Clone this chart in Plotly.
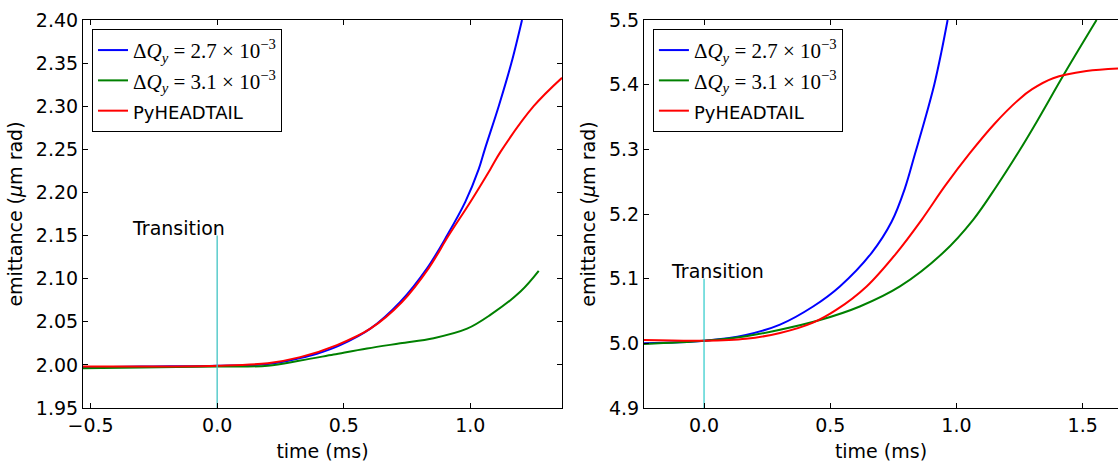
import plotly.graph_objects as go

# ---------------- data ----------------
# Left panel
l_blue_t = [-0.53, -0.3, 0.0, 0.2, 0.328, 0.394, 0.486, 0.605, 0.723, 0.829, 0.908, 0.980, 1.033, 1.057, 1.112, 1.162, 1.204]
l_blue_e = [1.997, 1.998, 1.999, 2.001, 2.008, 2.013, 2.023, 2.042, 2.073, 2.112, 2.150, 2.189, 2.227, 2.25, 2.30, 2.35, 2.40]

l_green_t = [-0.53, -0.3, 0.0, 0.2, 0.328, 0.46, 0.592, 0.723, 0.855, 0.987, 1.079, 1.198, 1.270]
l_green_e = [1.996, 1.997, 1.998, 1.999, 2.005, 2.012, 2.019, 2.025, 2.031, 2.042, 2.058, 2.085, 2.109]

l_red_t = [-0.53, -0.3, 0.0, 0.2, 0.328, 0.473, 0.605, 0.730, 0.835, 0.914, 1.0, 1.079, 1.119, 1.25, 1.362]
l_red_e = [1.998, 1.998, 1.999, 2.002, 2.009, 2.023, 2.042, 2.073, 2.112, 2.150, 2.189, 2.227, 2.247, 2.30, 2.333]

# Right panel
r_blue_t = [-0.24, 0.0, 0.166, 0.301, 0.432, 0.538, 0.664, 0.743, 0.796, 0.835, 0.875, 0.912, 0.94, 0.965]
r_blue_e = [5.000, 5.004, 5.013, 5.029, 5.057, 5.088, 5.140, 5.188, 5.240, 5.292, 5.346, 5.40, 5.45, 5.5]

r_green_t = [-0.24, 0.0, 0.166, 0.301, 0.459, 0.617, 0.776, 0.947, 1.066, 1.159, 1.251, 1.317, 1.429, 1.555]
r_green_e = [4.999, 5.004, 5.011, 5.021, 5.036, 5.057, 5.088, 5.140, 5.191, 5.243, 5.299, 5.342, 5.418, 5.5]

r_red_t = [-0.24, 0.0, 0.166, 0.301, 0.432, 0.525, 0.644, 0.763, 0.862, 0.954, 1.053, 1.152, 1.25, 1.30, 1.383, 1.515, 1.64]
r_red_e = [5.005, 5.004, 5.007, 5.016, 5.032, 5.052, 5.088, 5.140, 5.191, 5.243, 5.294, 5.340, 5.378, 5.393, 5.410, 5.421, 5.425]

transition_left_y = [1.95, 2.15]
transition_right_y = [4.9, 5.1]

SERIF = "'Liberation Serif','DejaVu Serif',serif"
names = [
    f'<span style="font-family:{SERIF};font-size:21px">Δ<i>Q<sub>y</sub></i> = 2.7 × 10<sup>−3</sup></span>',
    f'<span style="font-family:{SERIF};font-size:21px">Δ<i>Q<sub>y</sub></i> = 3.1 × 10<sup>−3</sup></span>',
    '<span style="font-size:18px">PyHEADTAIL</span>',
]
colors = ["#0000FF", "#008000", "#FF0000"]

left_x_ticks = [-0.5, 0.0, 0.5, 1.0]
left_y_ticks = [1.95, 2.00, 2.05, 2.10, 2.15, 2.20, 2.25, 2.30, 2.35, 2.40]
right_x_ticks = [0.0, 0.5, 1.0, 1.5]
right_y_ticks = [4.9, 5.0, 5.1, 5.2, 5.3, 5.4, 5.5]

FONT = "DejaVu Sans, sans-serif"
FS = 19
fig = go.Figure()

left_series = [(l_blue_t, l_blue_e), (l_green_t, l_green_e), (l_red_t, l_red_e)]
right_series = [(r_blue_t, r_blue_e), (r_green_t, r_green_e), (r_red_t, r_red_e)]

for (t, e), n, c in zip(left_series, names, colors):
    fig.add_trace(go.Scatter(x=t, y=e, mode="lines", name=n,
                             line=dict(color=c, width=2, shape="spline", smoothing=1.0),
                             xaxis="x", yaxis="y", legend="legend"))
fig.add_trace(go.Scatter(x=[0, 0], y=transition_left_y, mode="lines", showlegend=False,
                         line=dict(color="#40C4C4", width=1.3), xaxis="x", yaxis="y", hoverinfo="skip"))

for (t, e), n, c in zip(right_series, names, colors):
    fig.add_trace(go.Scatter(x=t, y=e, mode="lines", name=n,
                             line=dict(color=c, width=2, shape="spline", smoothing=1.0),
                             xaxis="x2", yaxis="y2", legend="legend2"))
fig.add_trace(go.Scatter(x=[0, 0], y=transition_right_y, mode="lines", showlegend=False,
                         line=dict(color="#00BFBF", width=1), xaxis="x2", yaxis="y2", hoverinfo="skip"))

axis_common = dict(showgrid=False, zeroline=False, showline=True, linecolor="black", linewidth=1,
                   ticks="inside", ticklen=5, tickwidth=1, tickcolor="black", automargin=False,
                   tickfont=dict(family=FONT, size=FS, color="black"))

fig.update_layout(
    width=1118, height=462,
    margin=dict(l=0, r=0, t=20, b=54),
    paper_bgcolor="white", plot_bgcolor="white",
    font=dict(family=FONT, size=FS, color="black"),
    xaxis=dict(domain=[0.0742, 0.5027], range=[-0.53, 1.362], tickvals=left_x_ticks, tickformat=".1f",
               mirror="allticks", anchor="y",
               title=dict(text="time (ms)", font=dict(family=FONT, size=FS), standoff=9), **axis_common),
    yaxis=dict(domain=[0, 1], range=[1.95, 2.40], tickvals=left_y_ticks, tickformat=".2f",
               mirror="allticks", anchor="x",
               title=dict(text="emittance (<i>μ</i>m rad)", font=dict(family=FONT, size=FS), standoff=8), **axis_common),
    xaxis2=dict(domain=[0.576, 1.0], range=[-0.238, 1.64], tickvals=right_x_ticks, tickformat=".1f",
                mirror="allticks", anchor="y2",
                title=dict(text="time (ms)", font=dict(family=FONT, size=FS), standoff=9), **axis_common),
    yaxis2=dict(domain=[0, 1], range=[4.9, 5.5], tickvals=right_y_ticks, tickformat=".1f",
                mirror=False, anchor="x2",
                title=dict(text="emittance (<i>μ</i>m rad)", font=dict(family=FONT, size=FS), standoff=8), **axis_common),
    legend=dict(x=0.0823, y=0.977, xanchor="left", yanchor="top", bgcolor="white",
                bordercolor="black", borderwidth=1, font=dict(family=FONT, size=21, color="black")),
    legend2=dict(x=0.584, y=0.977, xanchor="left", yanchor="top", bgcolor="white",
                 bordercolor="black", borderwidth=1, font=dict(family=FONT, size=21, color="black")),
    annotations=[
        dict(x=-0.345, y=2.15, xref="x", yref="y", text="Transition", showarrow=False,
             xanchor="left", yanchor="bottom", yshift=-5, font=dict(family=FONT, size=FS, color="black")),
        dict(x=-0.14, y=5.1, xref="x2", yref="y2", text="Transition", showarrow=False,
             xanchor="left", yanchor="bottom", yshift=-5, font=dict(family=FONT, size=FS, color="black")),
    ],
    showlegend=True,
)

fig.write_html("out.html")
